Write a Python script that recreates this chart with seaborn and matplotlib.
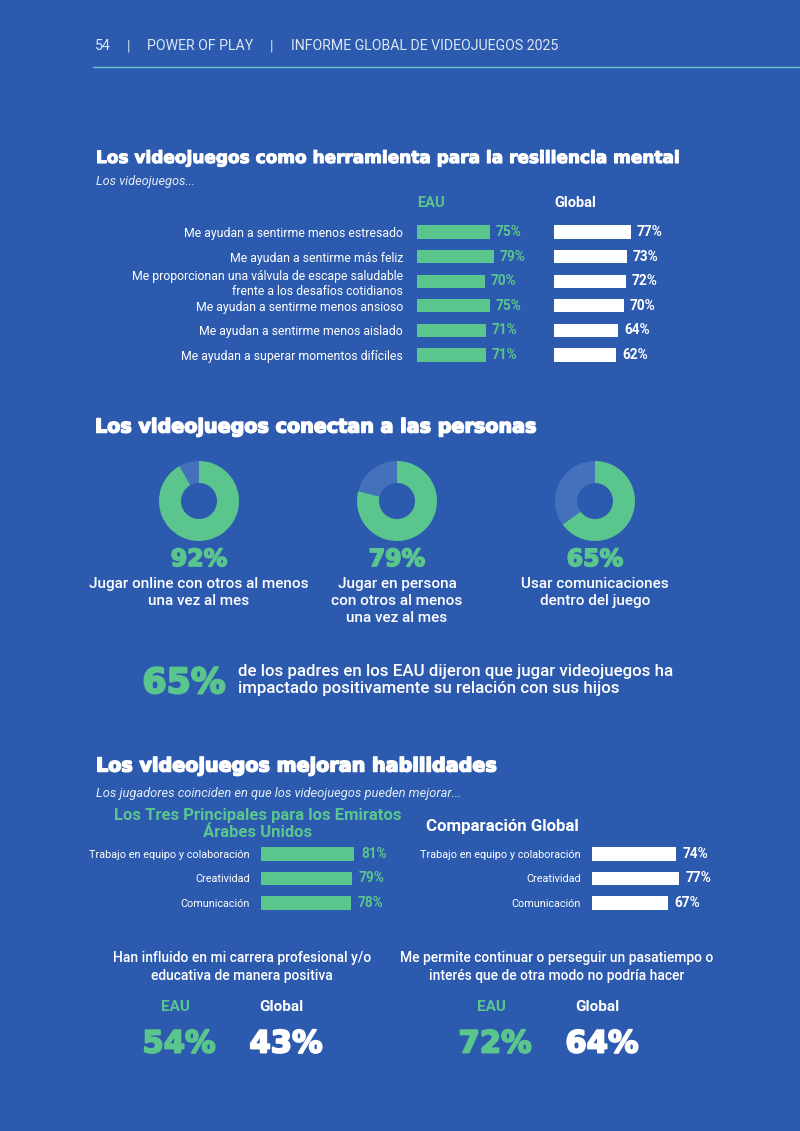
import numpy as np
import pandas as pd
import matplotlib
matplotlib.use("Agg")
import matplotlib.pyplot as plt
import matplotlib.patheffects as pe
import seaborn as sns

# ── Data ──────────────────────────────────────────────────────────────────────
resilience_labels = [
    "Me ayudan a sentirme menos estresado",
    "Me ayudan a sentirme más feliz",
    "Me proporcionan una válvula de escape saludable\nfrente a los desafíos cotidianos",
    "Me ayudan a sentirme menos ansioso",
    "Me ayudan a sentirme menos aislado",
    "Me ayudan a superar momentos difíciles",
]
resilience_eau    = [75, 79, 70, 75, 71, 71]
resilience_global = [77, 73, 72, 70, 64, 62]

connect_values = [92, 79, 65]
connect_labels = [
    "Jugar online con otros al menos\nuna vez al mes",
    "Jugar en persona\ncon otros al menos\nuna vez al mes",
    "Usar comunicaciones\ndentro del juego",
]

parents_pct  = 65
parents_text = ("de los padres en los EAU dijeron que jugar videojuegos ha\n"
                "impactado positivamente su relación con sus hijos")

skills_labels = ["Trabajo en equipo y colaboración", "Creatividad", "Comunicación"]
skills_eau    = [81, 79, 78]
skills_global = [74, 77, 67]

career_questions = [
    "Han influido en mi carrera profesional y/o\neducativa de manera positiva",
    "Me permite continuar o perseguir un pasatiempo o\ninterés que de otra modo no podría hacer",
]
career_eau    = [54, 72]
career_global = [43, 64]

# ── Style ─────────────────────────────────────────────────────────────────────
BG     = "#2C5AAE"
GREEN  = "#5BC58E"
REST   = "#4471BC"
WHITE  = "#FFFFFF"
LINE   = "#6CC6CF"
HEAVY  = ["DejaVu Sans"]        # wide heavy face for titles and big numbers
W, H   = 800, 1131

sns.set_theme(style="white")
plt.rcParams["font.family"] = ["Roboto", "DejaVu Sans"]

fig = plt.figure(figsize=(W / 100, H / 100), dpi=100, facecolor=BG)

# overlay for free text, in pixel coordinates
ov = fig.add_axes([0, 0, 1, 1])
ov.set_xlim(0, W)
ov.set_ylim(H, 0)
ov.axis("off")


def thick(color, lw=1.0):
    # fake a black/heavy weight by stroking the glyph outline
    return [pe.withStroke(linewidth=lw, foreground=color)]


def px_axes(left, top, width, height):
    return fig.add_axes([left / W, 1 - (top + height) / H, width / W, height / H])


def hbar(left, top, width, height, labels, values, color, label_size, value_size,
         pad, show_labels=True):
    ax = px_axes(left, top, width, height)
    ax.set_facecolor("none")
    df = pd.DataFrame({"label": labels, "value": values})
    sns.barplot(data=df, x="value", y="label", orient="h", color=color,
                width=0.54, saturation=1, linewidth=0, ax=ax)
    ax.set_xlim(0, 100)
    for s in ax.spines.values():
        s.set_visible(False)
    ax.set_xticks([])
    ax.set_xlabel("")
    ax.set_ylabel("")
    ax.tick_params(axis="y", length=0, pad=pad, labelsize=label_size, colors=WHITE)
    if not show_labels:
        ax.set_yticklabels([])
    for p, v in zip(ax.patches, values):
        ax.text(p.get_width() + 6, p.get_y() + p.get_height() / 2, f"{v}%",
                color=color, fontsize=value_size, fontweight="bold",
                va="center", ha="left")
    return ax


# ── Header ────────────────────────────────────────────────────────────────────
HDR = dict(color="#DCE6F5", fontsize=10.2, va="center", ha="left")
ov.text(95, 46, "54", **HDR)
ov.text(127, 46, "|", **HDR)
ov.text(147, 46, "POWER OF PLAY", **HDR)
ov.text(270, 46, "|", **HDR)
ov.text(291, 46, "INFORME GLOBAL DE VIDEOJUEGOS 2025", **HDR)
ov.plot([93, 800], [67, 67], color=LINE, lw=1)

TITLE_KW = dict(color=WHITE, fontweight="bold", family=HEAVY, va="center", ha="left")
SUB_KW = dict(color="#E4ECF8", style="italic", va="center", ha="left")

# ── Section 1: resilience ────────────────────────────────────────────────────
ov.text(96, 158, "Los videojuegos como herramienta para la resiliencia mental",
        fontsize=12.2, path_effects=thick(WHITE, 0.8), **TITLE_KW)
ov.text(96, 182, "Los videojuegos...", fontsize=9.2, **SUB_KW)
ov.text(417, 203, "EAU", color=GREEN, fontsize=10.5, fontweight="bold", va="center")
ov.text(554, 203, "Global", color=WHITE, fontsize=10.5, fontweight="bold", va="center")

row1 = 24.6
hbar(417, 232 - row1 / 2, 97, row1 * 6, resilience_labels, resilience_eau,
     GREEN, 8.8, 9.8, 10)
hbar(554, 232 - row1 / 2, 100, row1 * 6, resilience_labels, resilience_global,
     WHITE, 8.8, 9.8, 10, show_labels=False)

# ── Section 2: donuts ─────────────────────────────────────────────────────────
ov.text(95, 427, "Los videojuegos conectan a las personas", fontsize=13.8,
        path_effects=thick(WHITE, 1.1), **TITLE_KW)
centers = [199, 397, 595]
for cx, val, lab in zip(centers, connect_values, connect_labels):
    ax = px_axes(cx - 40, 501 - 40, 80, 80)
    ax.pie([val, 100 - val], colors=[GREEN, REST], startangle=90, counterclock=False,
           wedgeprops=dict(width=0.55, edgecolor="none"))
    ax.set_xlim(-1, 1)
    ax.set_ylim(-1, 1)
    ax.set_aspect("equal")
    ov.text(cx, 559, f"{val}%", color=GREEN, fontsize=17, fontweight="bold",
            family=HEAVY, ha="center", va="center", path_effects=thick(GREEN, 1.2))
    ov.text(cx, 577, lab, color=WHITE, fontsize=11, fontweight="medium",
            ha="center", va="top", linespacing=1.25)

ov.text(184, 683, f"{parents_pct}%", color=GREEN, fontsize=25, fontweight="bold",
        family=HEAVY, ha="center", va="center", path_effects=thick(GREEN, 1.5))
ov.text(238, 680, parents_text, color=WHITE, fontsize=12.2, fontweight="medium",
        ha="left", va="center", linespacing=1.1)

# ── Section 3: skills ─────────────────────────────────────────────────────────
ov.text(96, 766, "Los videojuegos mejoran habilidades", fontsize=13.8,
        path_effects=thick(WHITE, 1.1), **TITLE_KW)
ov.text(96, 794, "Los jugadores coinciden en que los videojuegos pueden mejorar...",
        fontsize=9.3, **SUB_KW)
ov.text(258, 824, "Los Tres Principales para los Emiratos\nÁrabes Unidos", color=GREEN,
        fontsize=12, fontweight="bold", ha="center", va="center", linespacing=1.12)
ov.text(426, 827, "Comparación Global", color=WHITE, fontsize=12.2, fontweight="bold",
        ha="left", va="center")

row3 = 24.5
hbar(261, 854 - row3 / 2, 115, row3 * 3, skills_labels, skills_eau,
     GREEN, 7.8, 9.8, 8)
hbar(592, 854 - row3 / 2, 113, row3 * 3, skills_labels, skills_global,
     WHITE, 7.8, 9.8, 8)

# ── Section 4: big numbers ────────────────────────────────────────────────────
q_x   = [242, 557]
eau_x = [179, 495]
glb_x = [286, 602]
for qx, ex, gx, q, e, g in zip(q_x, eau_x, glb_x, career_questions,
                               career_eau, career_global):
    ov.text(qx, 967, q, color=WHITE, fontsize=10, fontweight="medium",
            ha="center", va="center", linespacing=1.3)
    ov.text(ex - 4, 1007, "EAU", color=GREEN, fontsize=11, fontweight="bold",
            ha="center", va="center")
    ov.text(gx - 5, 1007, "Global", color=WHITE, fontsize=11, fontweight="bold",
            ha="center", va="center")
    ov.text(ex, 1044, f"{e}%", color=GREEN, fontsize=22, fontweight="bold",
            family=HEAVY, ha="center", va="center", path_effects=thick(GREEN, 1.4))
    ov.text(gx, 1044, f"{g}%", color=WHITE, fontsize=22, fontweight="bold",
            family=HEAVY, ha="center", va="center", path_effects=thick(WHITE, 1.4))

fig.savefig("out.png", dpi=100, facecolor=BG)
